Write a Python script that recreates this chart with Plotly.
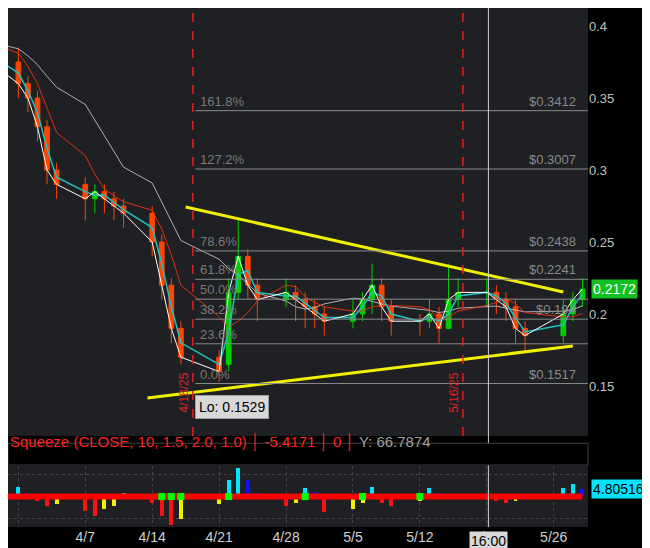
import plotly.graph_objects as go
import pandas as pd

dates = ["2025-03-24","2025-03-25","2025-03-26","2025-03-27","2025-03-28",
         "2025-03-31","2025-04-01","2025-04-02","2025-04-03","2025-04-04",
         "2025-04-07","2025-04-08","2025-04-09","2025-04-10","2025-04-11",
         "2025-04-14","2025-04-15","2025-04-16","2025-04-17",
         "2025-04-21","2025-04-22","2025-04-23","2025-04-24","2025-04-25",
         "2025-04-28","2025-04-29","2025-04-30","2025-05-01","2025-05-02",
         "2025-05-05","2025-05-06","2025-05-07","2025-05-08","2025-05-09",
         "2025-05-12","2025-05-13","2025-05-14","2025-05-15","2025-05-16",
         "2025-05-19","2025-05-20","2025-05-21","2025-05-22","2025-05-23",
         "2025-05-27","2025-05-28","2025-05-29"]
close = [0.40,0.395,0.39,0.385,0.375,
         0.36,0.35,0.33,0.30,0.29,
         0.28,0.285,0.28,0.275,0.27,
         0.25,0.22,0.19,0.17,
         0.16,0.215,0.24,0.22,0.21,
         0.215,0.21,0.205,0.20,0.195,
         0.20,0.21,0.22,0.205,0.195,
         0.195,0.20,0.19,0.21,0.215,
         0.215,0.21,0.205,0.19,0.185,
         0.20,0.21,0.2172]
openp = [0.405,0.40,0.395,0.39,0.385,
         0.375,0.36,0.35,0.33,0.30,
         0.29,0.28,0.285,0.28,0.275,
         0.27,0.25,0.22,0.19,
         0.17,0.165,0.215,0.24,0.22,
         0.21,0.215,0.21,0.205,0.20,
         0.195,0.20,0.21,0.22,0.205,
         0.195,0.195,0.20,0.19,0.21,
         0.215,0.215,0.21,0.205,0.19,
         0.185,0.20,0.21]
high = [0.41,0.405,0.40,0.395,0.39,
        0.385,0.365,0.355,0.335,0.305,
        0.295,0.29,0.29,0.285,0.28,
        0.275,0.255,0.225,0.195,
        0.175,0.225,0.265,0.245,0.225,
        0.225,0.22,0.215,0.21,0.205,
        0.21,0.215,0.235,0.225,0.21,
        0.20,0.21,0.205,0.235,0.225,
        0.225,0.22,0.215,0.21,0.195,
        0.21,0.215,0.225]
low = [0.395,0.39,0.385,0.38,0.37,
       0.35,0.34,0.32,0.29,0.28,
       0.265,0.27,0.27,0.265,0.26,
       0.24,0.21,0.18,0.165,
       0.1529,0.16,0.21,0.21,0.195,
       0.205,0.195,0.19,0.19,0.185,
       0.19,0.195,0.20,0.195,0.185,
       0.185,0.19,0.18,0.19,0.205,
       0.205,0.20,0.195,0.18,0.175,
       0.18,0.195,0.205]
hist = [6,5,5,4,3,
        6,2,-3,-6,-5,
        -9,-12,-8,-6,2,
        -4,-12,-18,-14,
        -5,10,18,10,2,
        -6,-4,5,3,-10,
        -8,-4,6,-4,-6,
        -3,5,2,1,1,
        -2,-3,-4,-3,-1,
        5,8,4.80516]
squeeze_on = [0,0,0,0,0,
              0,0,0,0,0,
              0,0,0,0,0,
              0,1,1,1,
              0,1,0,0,0,
              0,0,1,0,0,
              0,1,0,0,0,
              1,0,0,0,0,
              0,0,0,0,0,
              0,0,0]
fib_pct = ["0.0%","23.6%","38.2%","50.0%","61.8%","78.6%","127.2%","161.8%"]
fib_val = [0.1517,0.1793,0.1964,0.2103,0.2241,0.2438,0.3007,0.3412]
fib_lbl = ["$0.1517","","$0.194","","$0.2241","$0.2438","$0.3007","$0.3412"]
tick_dates = ["2025-03-31","2025-04-07","2025-04-14","2025-04-21","2025-04-28",
              "2025-05-05","2025-05-12","2025-05-19","2025-05-26"]
tick_text = ["3/31","4/7","4/14","4/21","4/28","5/5","5/12","5/19","5/26"]
upper_tl = (["2025-04-17 12:00","2025-05-27 00:00"],[0.2743,0.2153])
lower_tl = (["2025-04-13 12:00","2025-05-28 00:00"],[0.1417,0.1778])

s = pd.Series(close)
ma3 = s.rolling(2, min_periods=1).mean()
ma5 = s.rolling(5, min_periods=1).mean()
ma10 = s.rolling(10, min_periods=1).mean()

fig = go.Figure()
fig.add_trace(go.Candlestick(x=dates, open=openp, high=high, low=low, close=close,
    increasing=dict(line=dict(color="#00d000", width=1), fillcolor="#00d000"),
    decreasing=dict(line=dict(color="#ff4500", width=1), fillcolor="#ff4500"),
    whiskerwidth=0, xaxis="x", yaxis="y", showlegend=False))
fig.add_trace(go.Scatter(x=dates, y=ma10, mode="lines", line=dict(color="#b0b0b0", width=1), yaxis="y"))
fig.add_trace(go.Scatter(x=dates, y=ma5, mode="lines", line=dict(color="#e03010", width=1), yaxis="y"))
fig.add_trace(go.Scatter(x=dates, y=ma3, mode="lines", line=dict(color="#20c0c0", width=1.5), yaxis="y"))
fig.add_trace(go.Scatter(x=dates, y=close, mode="lines", line=dict(color="#ffffff", width=1), yaxis="y"))
for tl in (upper_tl, lower_tl):
    fig.add_trace(go.Scatter(x=tl[0], y=tl[1], mode="lines", line=dict(color="#f0f000", width=3), yaxis="y"))

cols = []
for i, v in enumerate(hist):
    prev = hist[i-1] if i > 0 else v
    if v >= 0:
        cols.append("#00e5ff" if v >= prev else "#1010ff")
    else:
        cols.append("#ff1010" if v <= prev else "#f0f000")
fig.add_trace(go.Bar(x=dates, y=hist, marker=dict(color=cols, line=dict(width=0)), width=3.6e7,
                     xaxis="x2", yaxis="y2"))
fig.add_trace(go.Scatter(x=dates, y=[0]*len(dates), mode="lines", line=dict(color="#ff0000", width=6),
                         xaxis="x2", yaxis="y2"))
fig.add_trace(go.Scatter(x=[d for d, q in zip(dates, squeeze_on) if q],
                         y=[0]*sum(squeeze_on), mode="markers",
                         marker=dict(color="#00ff00", size=7, symbol="square"),
                         xaxis="x2", yaxis="y2"))

xr = ["2025-03-29 22:00", "2025-05-29 14:00"]
fig.update_layout(
    width=650, height=548, margin=dict(l=0, r=70, t=0, b=28),
    paper_bgcolor="#000000", plot_bgcolor="#1e2024", showlegend=False,
    font=dict(family="Liberation Sans, Arial", color="#c8c8c8", size=13),
    xaxis=dict(range=xr, domain=[0, 1], anchor="y", showticklabels=False,
               rangeslider=dict(visible=False), showgrid=False, zeroline=False),
    yaxis=dict(domain=[0.177, 1], range=[0.1153, 0.4125], side="right",
               tickvals=[0.15,0.2,0.25,0.3,0.35,0.4], ticktext=["0.15","0.2","0.25","0.3","0.35","0.4"],
               showgrid=False, zeroline=False, ticks="", tickfont=dict(color="#c0c0c0")),
    xaxis2=dict(range=xr, domain=[0, 1], anchor="y2", tickvals=tick_dates, ticktext=tick_text,
                showgrid=True, gridcolor="#44464a", griddash="dot", zeroline=False,
                tickfont=dict(color="#d0d0d0", size=14)),
    yaxis2=dict(domain=[0.002, 0.119], range=[-19, 19], side="right", showticklabels=False,
                showgrid=True, gridcolor="#44464a", griddash="dot", tickvals=[-14, 14], zeroline=False),
    bargap=0,
)
shapes = []
for v in fib_val:
    shapes.append(dict(type="line", xref="x", yref="y", x0="2025-04-18 12:00", x1=xr[1], y0=v, y1=v,
                       line=dict(color="#8a8a8a", width=1)))
for d in ["2025-04-18 06:00", "2025-05-16 12:00"]:
    shapes.append(dict(type="line", xref="x", yref="paper", x0=d, x1=d, y0=0.177, y1=1,
                       line=dict(color="#e02020", width=1.5, dash="dash")))
shapes.append(dict(type="line", xref="x", yref="paper", x0="2025-05-19 04:00", x1="2025-05-19 04:00",
                   y0=0.002, y1=1, line=dict(color="#d0d0d0", width=1)))
shapes.append(dict(type="rect", xref="paper", yref="paper", x0=0, x1=1, y0=0.121, y1=0.163,
                   fillcolor="#000000", line=dict(color="#404040", width=1)))
fig.update_layout(shapes=shapes)
ann = []
for p, v, l in zip(fib_pct, fib_val, fib_lbl):
    ann.append(dict(x="2025-04-18 18:00", y=v, xref="x", yref="y", text=p, showarrow=False,
                    xanchor="left", yanchor="bottom", font=dict(color="#7a7a7a", size=13)))
    if l:
        ann.append(dict(x="2025-05-28 12:00", y=v, xref="x", yref="y", text=l, showarrow=False,
                        xanchor="right", yanchor="bottom", font=dict(color="#8a8a8a", size=13)))
ann += [
    dict(x="2025-04-18 06:00", y=0.13, xref="x", yref="y", text="4/18/25", textangle=-90, showarrow=False,
         xanchor="right", yanchor="bottom", font=dict(color="#e02020", size=12)),
    dict(x="2025-05-16 12:00", y=0.13, xref="x", yref="y", text="5/16/25", textangle=-90, showarrow=False,
         xanchor="right", yanchor="bottom", font=dict(color="#e02020", size=12)),
    dict(x="2025-04-18 12:00", y=0.1353, xref="x", yref="y", text="Lo: 0.1529", showarrow=False,
         xanchor="left", bgcolor="#d8d8d8", bordercolor="#a0a0a0", borderpad=3, font=dict(color="#000", size=14)),
    dict(x=1.005, y=0.2172, xref="paper", yref="y", text="0.2172", showarrow=False, xanchor="left",
         bgcolor="#10c020", font=dict(color="#ffffff", size=14)),
    dict(x=1.005, y=4.80516, xref="paper", yref="y2", text="4.80516", showarrow=False, xanchor="left",
         bgcolor="#00e5ff", font=dict(color="#000000", size=14)),
    dict(x=0, y=0.142, xref="paper", yref="paper", showarrow=False, xanchor="left",
         text="<span style='color:#ff2020'>Squeeze (CLOSE, 10, 1.5, 2.0, 1.0) │ -5.4171 │ 0 │</span> <span style='color:#a0a0a0'>Y: 66.7874</span>",
         font=dict(size=15)),
    dict(x="2025-05-19 04:00", y=-0.005, xref="x2", yref="paper", text="16:00", showarrow=False,
         yanchor="top", bgcolor="#d8d8d8", font=dict(color="#000", size=14)),
]
fig.update_layout(annotations=ann)
fig.write_html("out.html")
